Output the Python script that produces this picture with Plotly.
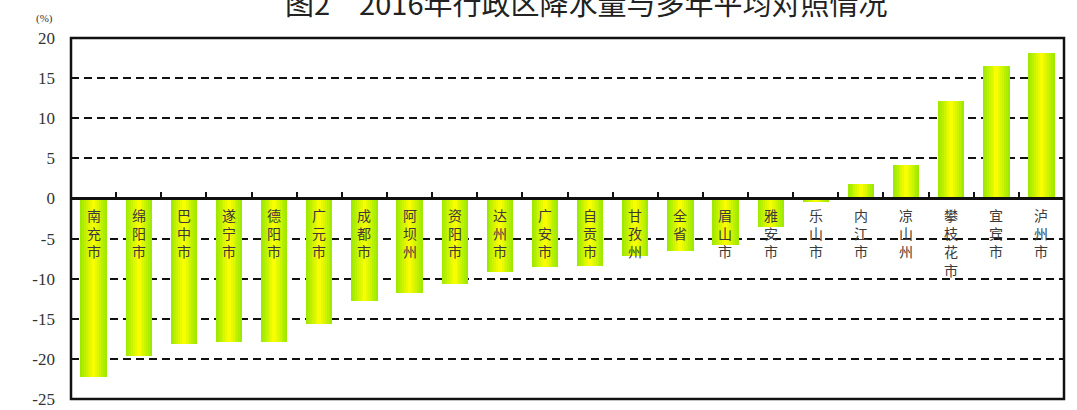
import plotly.graph_objects as go

# 2016 precipitation anomaly vs. multi-year mean, by prefecture (%)
regions = ["南充市", "绵阳市", "巴中市", "遂宁市", "德阳市", "广元市", "成都市",
           "阿坝州", "资阳市", "达州市", "广安市", "自贡市", "甘孜州", "全省",
           "眉山市", "雅安市", "乐山市", "内江市", "凉山州", "攀枝花市", "宜宾市", "泸州市"]
anomaly = [-22.2, -19.6, -18.1, -17.9, -17.9, -15.7, -12.8, -11.8, -10.7, -9.2,
           -8.6, -8.4, -7.2, -6.6, -5.8, -3.6, -0.4, 1.8, 4.2, 12.1, 16.5, 18.1]
ytick_vals = [20, 15, 10, 5, 0, -5, -10, -15, -20, -25]
ytick_text = ["20", "15", "10", "5", "0", "-5", "-10", "-15", "-20", "-25"]

title_text = "图2　2016年行政区降水量与多年平均对照情况"
unit_text = "(%)"

Y_MIN, Y_MAX = -25, 20
BAR_W = 0.58          # bar width in category units
N_SLICES = 14         # vertical strips used to paint the horizontal gradient
EDGE = (150, 232, 0)  # green at bar edges
MID = (255, 255, 0)   # yellow at bar centre


def strip_color(i):
    c = (i + 0.5) / N_SLICES          # 0..1 across the bar
    t = 1 - abs(c - 0.5) * 2          # 0 at edges, 1 at centre
    rgb = [round(e + (m - e) * t) for e, m in zip(EDGE, MID)]
    return "rgb({},{},{})".format(*rgb)


fig = go.Figure()
strip_w = BAR_W / N_SLICES
for i in range(N_SLICES):
    fig.add_trace(go.Bar(
        x=regions, y=anomaly,
        width=strip_w * 1.08,
        offset=-BAR_W / 2 + i * strip_w,
        marker=dict(color=strip_color(i), line=dict(width=0)),
        hoverinfo="skip", showlegend=False,
    ))

# vertical, one-character-per-line labels hanging under the zero line
for name in regions:
    fig.add_annotation(
        x=name, y=0, xref="x", yref="y",
        text="<br>".join(list(name)),
        showarrow=False, yanchor="top", yshift=-5,
        font=dict(family="Noto Sans CJK SC", size=14, color="#3a3a3a"),
    )

zero_pos = (0 - Y_MIN) / (Y_MAX - Y_MIN)

fig.add_annotation(
    x=0.5, y=1.1, xref="paper", yref="paper", xshift=18,
    text=title_text, showarrow=False, yanchor="middle", xanchor="center",
    font=dict(family="Noto Sans CJK SC", size=29, color="#222222"),
)
fig.add_annotation(
    x=-0.027, y=1.055, xref="paper", yref="paper",
    text=unit_text, showarrow=False, xanchor="center", yanchor="middle",
    font=dict(family="Liberation Serif", size=11, color="#333333"),
)

# frame around the plotting area
fig.add_shape(type="rect", xref="paper", yref="paper", x0=0, y0=0, x1=1, y1=1,
              line=dict(color="#111111", width=2.5), layer="above")

fig.update_layout(
    width=1077, height=410,
    margin=dict(l=71, r=13, t=38, b=11),
    paper_bgcolor="white", plot_bgcolor="white",
    barmode="overlay", bargap=0,
    xaxis=dict(
        type="category", anchor="free", position=zero_pos, automargin=False,
        showline=True, linecolor="#111111", linewidth=2.5,
        ticks="inside", tickson="boundaries", ticklen=6, tickwidth=2,
        tickcolor="#111111", showticklabels=False, showgrid=False,
        zeroline=False, range=[-0.5, len(regions) - 0.5],
    ),
    yaxis=dict(
        range=[Y_MIN, Y_MAX], tickvals=ytick_vals, ticktext=ytick_text,
        automargin=False,
        showgrid=True, gridcolor="#111111", gridwidth=2, griddash="8px,5px",
        zeroline=False, ticks="", ticklabelstandoff=15,
        tickfont=dict(family="Liberation Serif", size=17, color="#333333"),
    ),
)

fig.write_html("out.html")
